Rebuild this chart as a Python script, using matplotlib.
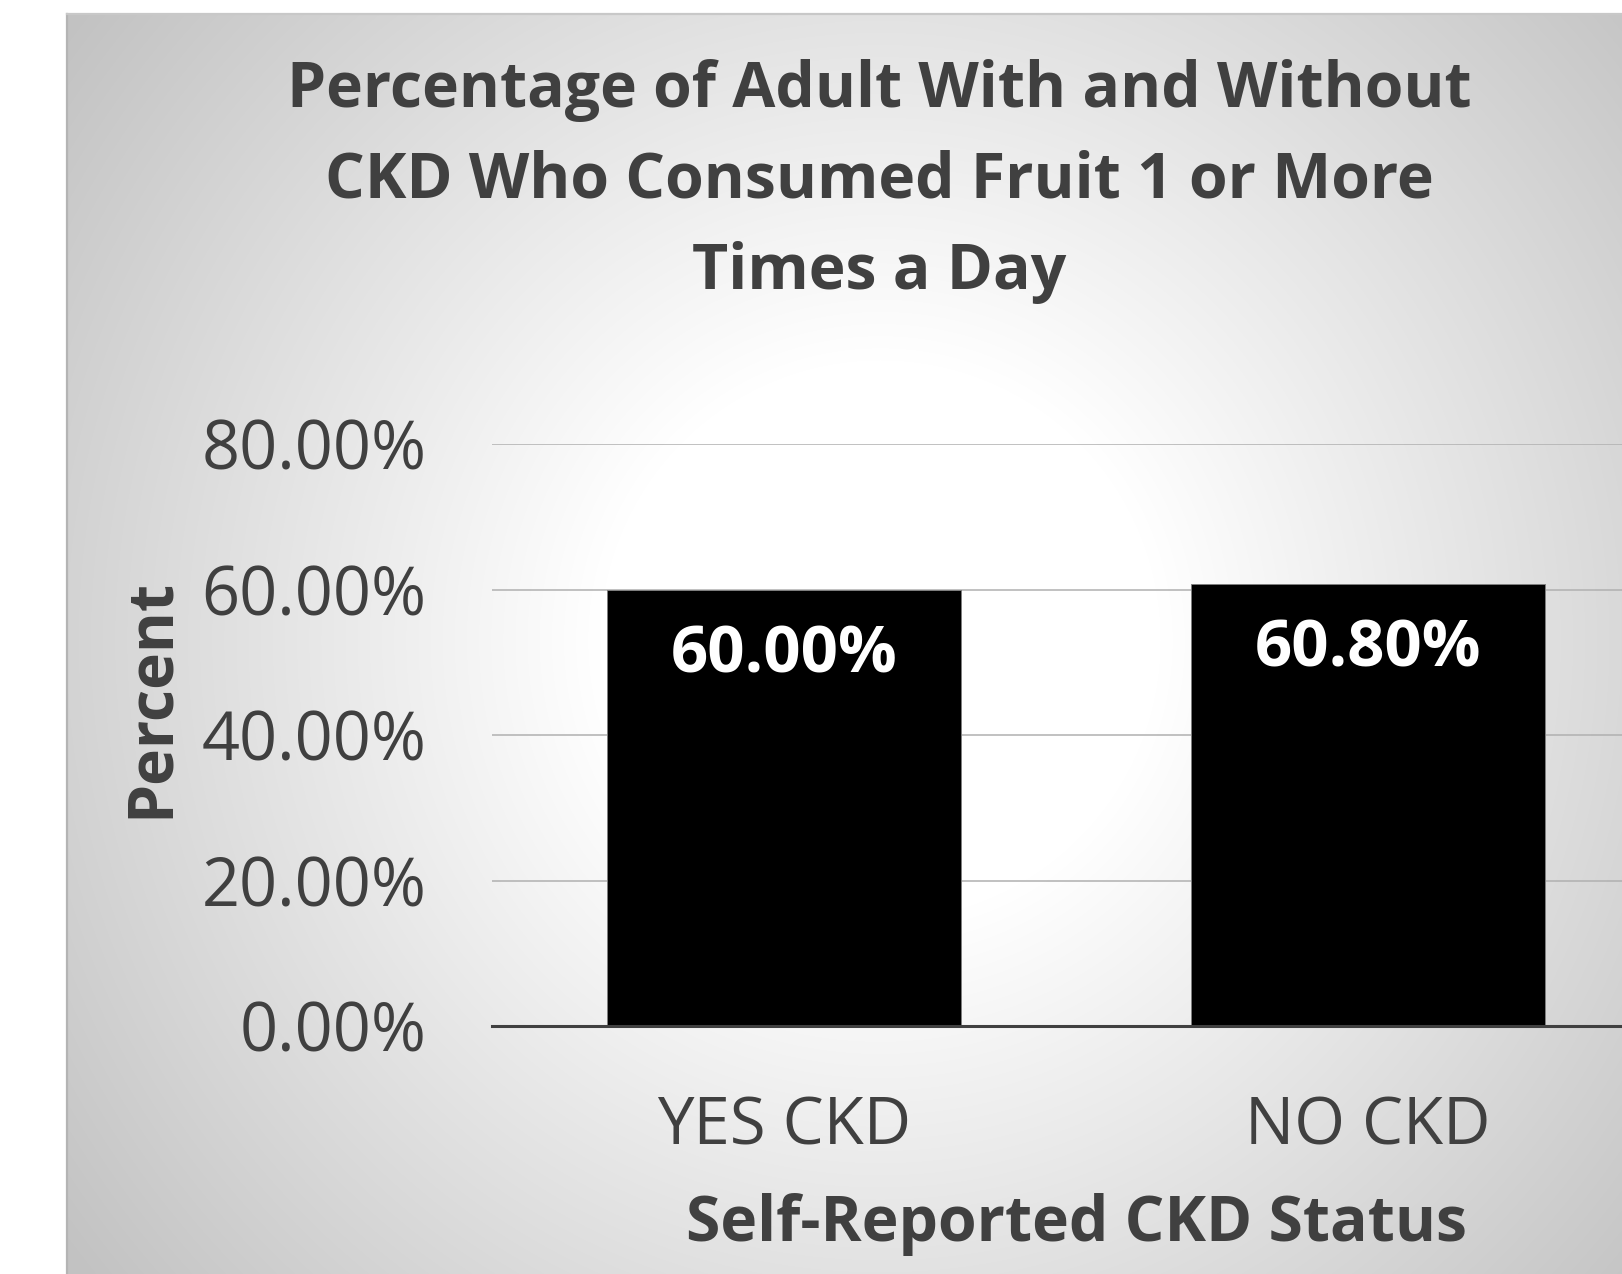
import matplotlib.pyplot as plt
import numpy as np
from matplotlib.ticker import FormatStrFormatter

# data
categories = ['YES CKD', 'NO CKD']
percent = [60.00, 60.80]
y_ticks = [0, 20, 40, 60, 80]
title_lines = ['Percentage of Adult With and Without',
               'CKD Who Consumed Fruit 1 or More',
               'Times a Day']

txt = '#404040'
plt.rcParams['font.family'] = ['Open Sans', 'DejaVu Sans']

W, H = 1622, 1274
fig = plt.figure(figsize=(W / 100, H / 100), dpi=100)

# chart-area background: radial gradient, white in the middle, grey at the corners
bg = fig.add_axes([0, 0, 1, 1], zorder=-1)
bg.set_axis_off()
xx, yy = np.meshgrid(np.arange(W), np.arange(H))
r = np.hypot(xx - 880, yy - 640)
t = np.clip((r - 280) / (1020 - 280), 0, 1)
shade = 1.0 - t * (1.0 - 0xc2 / 255)
shade[(xx < 67) | (yy < 14)] = 1.0
bg.imshow(np.dstack([shade] * 3), extent=(0, W, H, 0), interpolation='bilinear')
bg.plot([67, 67], [14, H], color='#b4b4b4', lw=1.6)
bg.plot([67, W], [14, 14], color='#c8c8c8', lw=1.6)
bg.set_xlim(0, W)
bg.set_ylim(H, 0)

# plot area
ax = fig.add_axes([492 / W, (H - 1026) / H, 1168 / W, 582 / H])
ax.set_facecolor('none')
x = np.arange(len(categories))
bars = ax.bar(x, percent, width=0.605, color='black', edgecolor='#7f7f7f',
              linewidth=0.7, zorder=3)
ax.set_xlim(-0.5, 1.5)
ax.set_ylim(0, 80)
ax.set_yticks(y_ticks)
ax.yaxis.set_major_formatter(FormatStrFormatter('%.2f%%'))
ax.grid(axis='y', color='#b0b0b0', lw=1.1, zorder=0)
ax.set_xticks(x)
ax.set_xticklabels(categories)
ax.tick_params(axis='y', length=0, pad=47, labelsize=48, labelcolor=txt)
ax.tick_params(axis='x', length=0, pad=49, labelsize=47, labelcolor=txt)
for s in ['top', 'right', 'left']:
    ax.spines[s].set_visible(False)
ax.spines['bottom'].set_color('#404040')
ax.spines['bottom'].set_linewidth(2.2)
ax.spines['bottom'].set_zorder(4)

ax.set_xlabel('Self-Reported CKD Status', fontsize=45, fontweight='bold',
              color=txt, labelpad=24)

# value labels inside the bars
for bar, v in zip(bars, percent):
    ax.text(bar.get_x() + bar.get_width() / 2, v - 11.35, f'{v:.2f}%',
            ha='center', va='baseline', fontsize=47, fontweight='bold',
            color='white', zorder=5)

# title and y label
for i, line in enumerate(title_lines):
    fig.text(879 / W, 1 - (106.5 + i * 91.5) / H, line, ha='center',
             va='baseline', fontsize=45, fontweight='bold', color=txt)
fig.text(151 / W, 1 - 698 / H, 'Percent', rotation=90, ha='center',
         va='center', fontsize=45, fontweight='bold', color=txt)

fig.savefig('out.png', dpi=100)
